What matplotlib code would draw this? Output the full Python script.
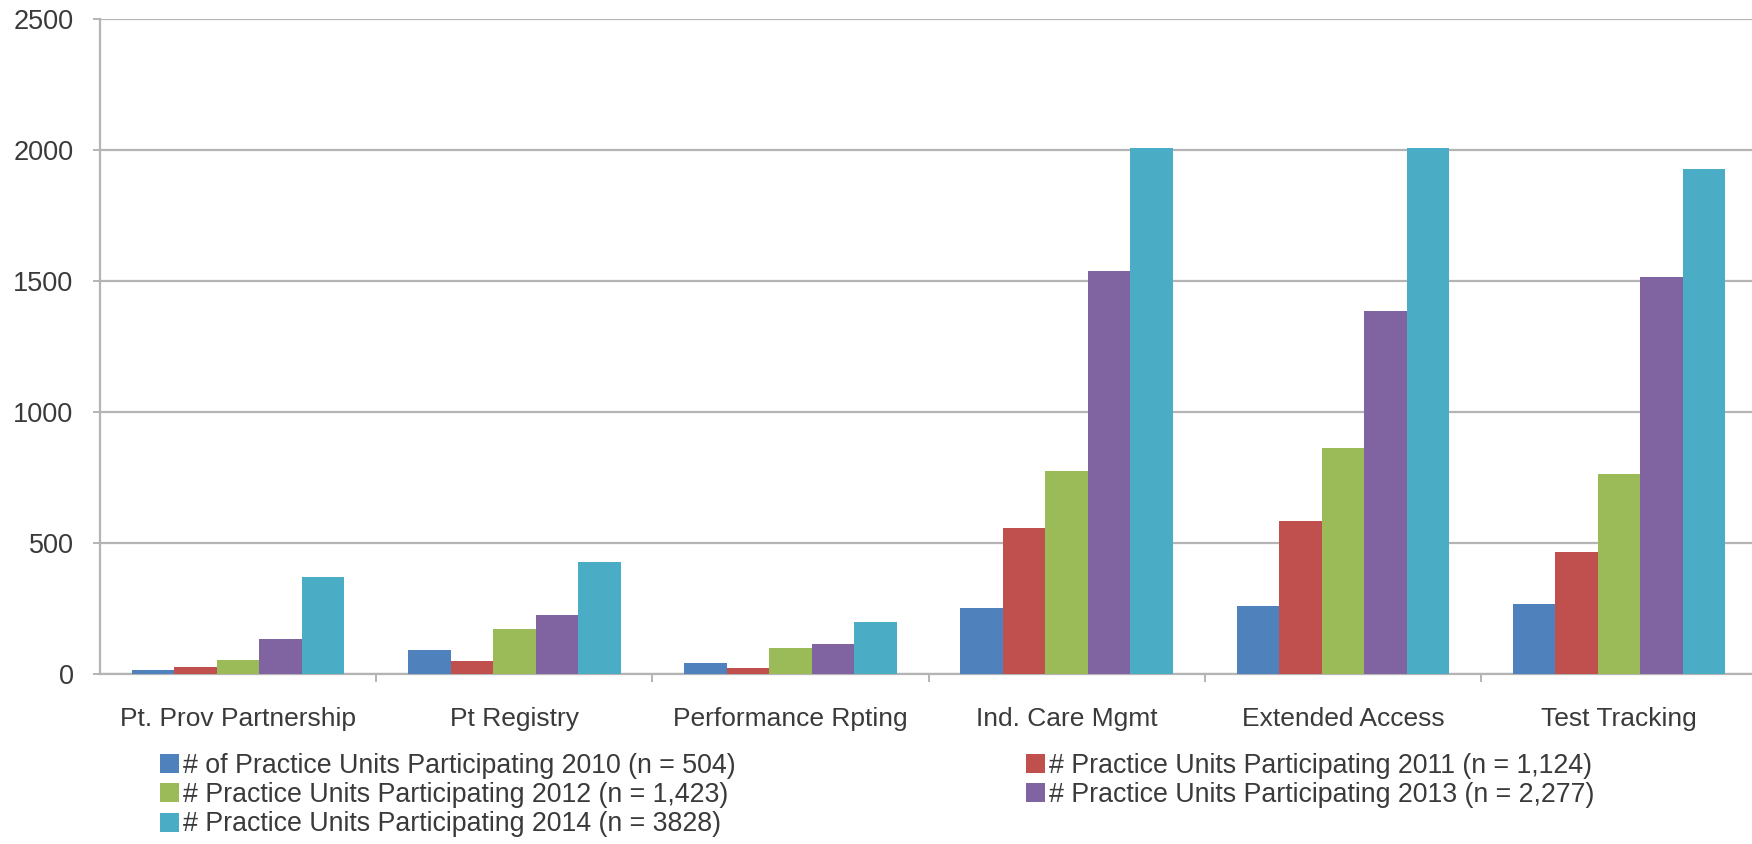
import numpy as np
import matplotlib
matplotlib.use("Agg")
import matplotlib.pyplot as plt
from matplotlib.patches import Patch

categories = ["Pt. Prov Partnership", "Pt Registry", "Performance Rpting",
              "Ind. Care Mgmt", "Extended Access", "Test Tracking"]
series_labels = [
    "# of Practice Units Participating 2010 (n = 504)",
    "# Practice Units Participating 2011 (n = 1,124)",
    "# Practice Units Participating 2012 (n = 1,423)",
    "# Practice Units Participating 2013 (n = 2,277)",
    "# Practice Units Participating 2014 (n = 3828)",
]
units_2010 = [17, 92, 43, 251, 258, 267]
units_2011 = [28, 48, 21, 559, 584, 467]
units_2012 = [54, 173, 98, 774, 861, 763]
units_2013 = [135, 226, 115, 1537, 1387, 1515]
units_2014 = [371, 426, 200, 2007, 2007, 1927]
series = [units_2010, units_2011, units_2012, units_2013, units_2014]
colors = ["#4F81BD", "#C0504D", "#9BBB59", "#8064A2", "#4BACC6"]

FONT = ["Liberation Sans Narrow", "Liberation Sans", "DejaVu Sans"]
plt.rcParams["font.family"] = FONT
TEXT_COLOR = "#3a3a3a"
GRID_COLOR = "#b4b4b4"

fig = plt.figure(figsize=(17.52, 8.44), dpi=100)
ax = fig.add_axes([100 / 1752, 170 / 844, 1 - 100 / 1752 + 0.003, 655 / 844])

x = np.arange(len(categories))
bar_w = 1 / 6.5
for i, (vals, col) in enumerate(zip(series, colors)):
    offset = (i - 2) * bar_w
    ax.bar(x + offset, vals, bar_w, color=col, zorder=3, linewidth=0)

ax.set_xlim(-0.5, len(categories) - 0.5)
ax.set_ylim(0, 2500)
ax.set_yticks(np.arange(0, 2501, 500))
ax.yaxis.grid(True, color=GRID_COLOR, linewidth=1.6, zorder=0)
ax.set_axisbelow(True)

for side in ["top", "right"]:
    ax.spines[side].set_visible(False)
ax.spines["left"].set_color(GRID_COLOR)
ax.spines["bottom"].set_color(GRID_COLOR)
ax.spines["left"].set_linewidth(1.6)
ax.spines["bottom"].set_linewidth(1.6)

ax.set_xticks(x)
ax.set_xticklabels(categories)
ax.set_xticks(np.arange(0.5, len(categories) - 0.5, 1), minor=True)
ax.tick_params(axis="x", which="major", length=0, pad=24, labelsize=19, labelcolor=TEXT_COLOR)
ax.tick_params(axis="x", which="minor", length=6, width=1.4, color=GRID_COLOR, direction="out")
ax.tick_params(axis="y", length=5, width=1.4, color=GRID_COLOR, pad=14, labelsize=19.5,
               labelcolor=TEXT_COLOR)

# two separate legends so the entries read row by row like the original
handles = [Patch(facecolor=c, edgecolor="none") for c in colors]
left_idx = [0, 2, 4]
right_idx = [1, 3]
leg_kw = dict(frameon=False, fontsize=19.3, handlelength=0.72, handleheight=0.72,
              handletextpad=0.15, labelspacing=0.12, borderaxespad=0, borderpad=0,
              labelcolor=TEXT_COLOR)
fig.legend([handles[i] for i in left_idx], [series_labels[i] for i in left_idx],
           loc="upper left", bbox_to_anchor=(160 / 1752, 1 - 753 / 844), **leg_kw)
fig.legend([handles[i] for i in right_idx], [series_labels[i] for i in right_idx],
           loc="upper left", bbox_to_anchor=(1026 / 1752, 1 - 753 / 844), **leg_kw)

fig.savefig("out.png", dpi=100, facecolor="white")
